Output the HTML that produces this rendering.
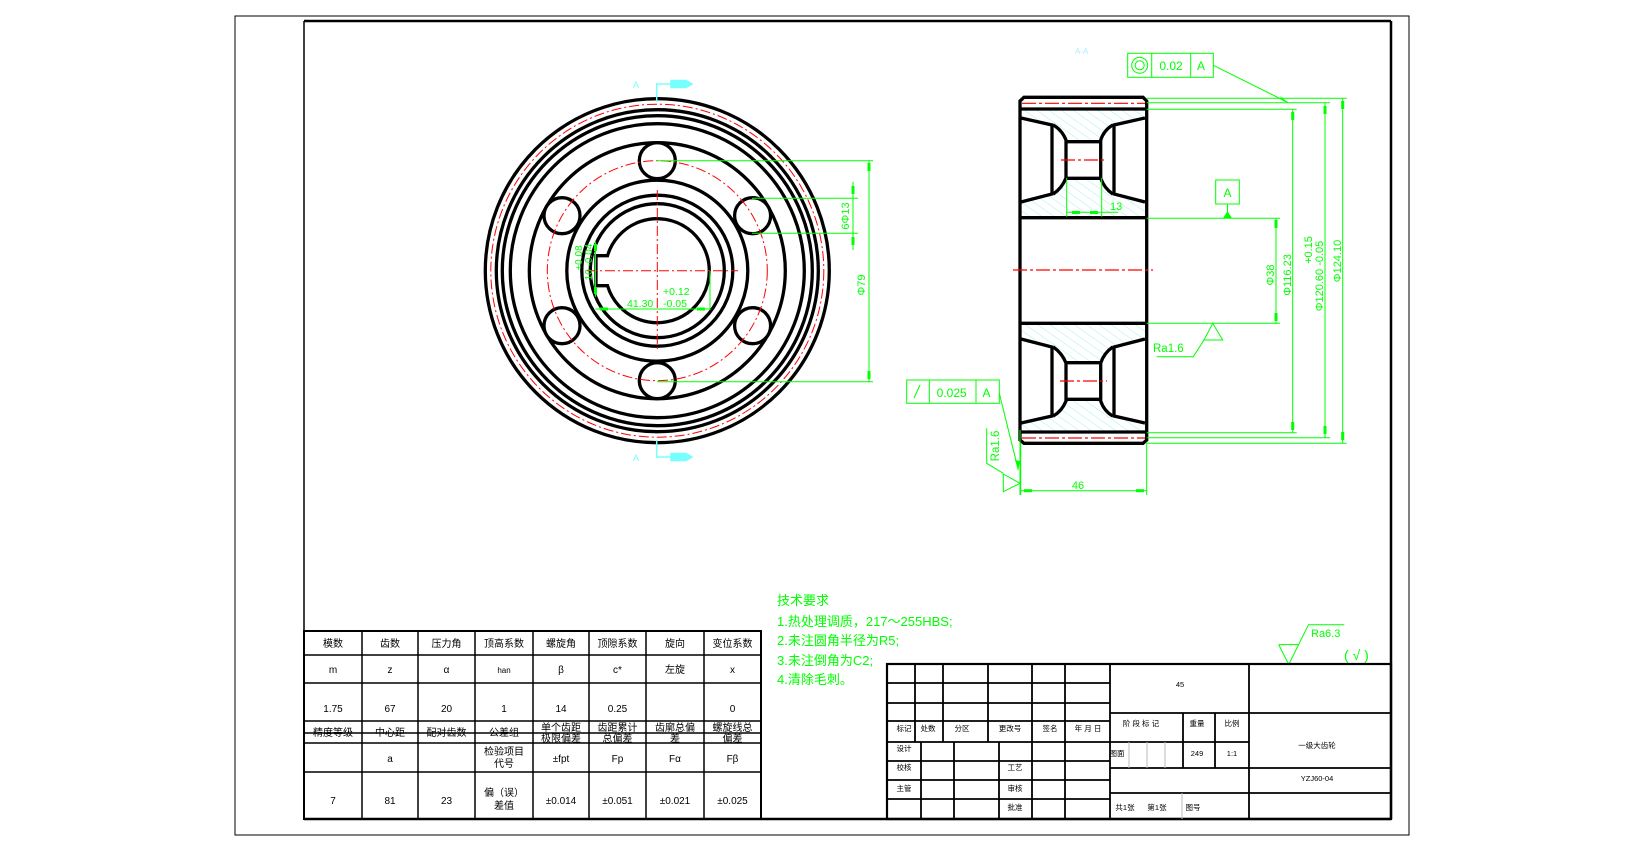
<!DOCTYPE html>
<html><head><meta charset="utf-8"><style>
html,body{margin:0;padding:0;background:#fff;}
svg{display:block;}
text{font-family:"Liberation Sans","Noto Sans CJK SC",sans-serif;}
</style></head><body>
<svg width="1637" height="842" viewBox="0 0 1637 842" xmlns="http://www.w3.org/2000/svg">
<defs>
<pattern id="h" width="7" height="7" patternUnits="userSpaceOnUse" patternTransform="rotate(-55)">
<line x1="0" y1="0" x2="0" y2="7" stroke="#8ee" stroke-width="0.8"/>
</pattern>
</defs>
<rect width="1637" height="842" fill="#fff"/>
<!-- frames -->
<rect x="235" y="16" width="1174" height="819" fill="none" stroke="#000" stroke-width="1"/>
<line x1="304" y1="21" x2="1391" y2="21" stroke="#000" stroke-width="2.5"/>
<line x1="304" y1="21" x2="304" y2="819" stroke="#000" stroke-width="1.5"/>
<line x1="1391" y1="21" x2="1391" y2="819" stroke="#000" stroke-width="2.5"/>
<line x1="304" y1="819" x2="1391" y2="819" stroke="#000" stroke-width="2.5"/>

<!-- ========== FRONT VIEW ========== -->
<g fill="none" stroke="#000" stroke-width="3.3">
<circle cx="657.3" cy="270.7" r="172"/>
<circle cx="657.3" cy="270.7" r="161"/>
<circle cx="657.3" cy="270.7" r="155"/>
<circle cx="657.3" cy="270.7" r="147"/>
<circle cx="657.3" cy="270.7" r="128"/>
<circle cx="657.3" cy="270.7" r="90.5"/>
<circle cx="657.3" cy="270.7" r="75.5"/>
<circle cx="657.3" cy="270.7" r="67"/>
<path d="M607.5 255.7 A52 52 0 1 1 607.5 285.7 L596 285.7 L596 255.7 Z"/>
</g>
<g fill="#fff" stroke="#000" stroke-width="3.3">
<circle cx="657.3" cy="160.7" r="18"/>
<circle cx="657.3" cy="380.7" r="18"/>
<circle cx="752.6" cy="215.7" r="18"/>
<circle cx="752.6" cy="325.7" r="18"/>
<circle cx="562" cy="215.7" r="18"/>
<circle cx="562" cy="325.7" r="18"/>
</g>
<g fill="none" stroke="#f00" stroke-width="1" stroke-dasharray="10,3,2,3">
<circle cx="657.3" cy="270.7" r="166.5"/>
<circle cx="657.3" cy="270.7" r="110"/>
<line x1="587" y1="270.7" x2="738" y2="270.7"/>
<line x1="657.3" y1="190" x2="657.3" y2="350"/>
</g>
<!-- section markers -->
<g stroke="#7ff" stroke-width="1.5" fill="#7ff">
<line x1="656.7" y1="83" x2="656.7" y2="102"/>
<line x1="656.7" y1="84" x2="672" y2="84"/>
<polygon points="671,80.5 686,80.5 692,84 686,87.5 671,87.5"/>
<line x1="656.7" y1="440" x2="656.7" y2="458"/>
<line x1="656.7" y1="457" x2="672" y2="457"/>
<polygon points="671,453.5 686,453.5 692,457 686,460.5 671,460.5"/>
</g>
<text x="633" y="88" font-size="9" fill="#7ff">A</text>
<text x="633" y="461" font-size="9" fill="#7ff">A</text>
<!-- front dims -->
<g stroke="#0f0" stroke-width="1" fill="none">
<line x1="657" y1="160.7" x2="873" y2="160.7"/>
<line x1="657" y1="381.7" x2="873" y2="381.7"/>
<line x1="869" y1="160.7" x2="869" y2="381.7"/>
<line x1="752" y1="198.3" x2="858" y2="198.3"/>
<line x1="752" y1="233.3" x2="858" y2="233.3"/>
<line x1="853" y1="181.7" x2="853" y2="250"/>
<line x1="595.5" y1="241.7" x2="595.5" y2="296.7"/>
<line x1="595.5" y1="309" x2="710" y2="309"/>
<line x1="710" y1="270.7" x2="710" y2="310"/>
</g>
<g fill="#0f0">
<rect x="867.5" y="163" width="3" height="8"/><rect x="867.5" y="371" width="3" height="8"/>
<rect x="851.5" y="186" width="3" height="8"/><rect x="851.5" y="237" width="3" height="8"/>
<rect x="594" y="244" width="3" height="7"/><rect x="594" y="287" width="3" height="7"/>
<rect x="600" y="307.5" width="8" height="3"/><rect x="697" y="307.5" width="8" height="3"/>
</g>
<g fill="#0f0" font-size="11">
<text transform="translate(865,285) rotate(-90)" text-anchor="middle">Φ79</text>
<text transform="translate(849,216) rotate(-90)" text-anchor="middle">6Φ13</text>
<text transform="translate(582,258) rotate(-90)" text-anchor="middle" font-size="10">+0.08</text>
<text transform="translate(592,262) rotate(-90)" text-anchor="middle" font-size="10">10  -0.04</text>
<text x="663" y="295" font-size="10.5">+0.12</text>
<text x="627" y="307" font-size="10.5">41.30</text>
<text x="663" y="307" font-size="10.5">-0.05</text>
</g>

<!-- ========== SIDE VIEW ========== -->
<text x="1075" y="54" font-size="8" fill="#aef">A-A</text>
<rect x="1021" y="109" width="124" height="109" fill="url(#h)"/>
<rect x="1021" y="323" width="124" height="109" fill="url(#h)"/>
<g fill="#fff" stroke="none">
<path d="M1021 118 L1052 125 L1053.3 125 Q1061 130 1066 140 L1066 178 Q1061 188 1053.3 194 L1052 194 L1021 202 Z"/>
<path d="M1145 118 L1114 125 L1112.7 125 Q1105 130 1100.7 140 L1100.7 178 Q1105 188 1112.7 194 L1114 194 L1145 202 Z"/>
<rect x="1066" y="141.7" width="34.7" height="36.6"/>
<path d="M1021 423 L1052 416 L1053.3 416 Q1061 411 1066 401 L1066 363 Q1061 353 1053.3 347 L1052 347 L1021 339 Z"/>
<path d="M1145 423 L1114 416 L1112.7 416 Q1105 411 1100.7 401 L1100.7 363 Q1105 353 1112.7 347 L1114 347 L1145 339 Z"/>
<rect x="1066" y="362.7" width="34.7" height="36.6"/>
</g>
<g fill="none" stroke="#000" stroke-width="3.3">
<path d="M1024 97.3 L1143 97.3 L1146.7 101 L1146.7 440 L1143 443.3 L1024 443.3 L1020 440 L1020 101 Z"/>
<line x1="1020" y1="109" x2="1146.7" y2="109"/>
<line x1="1020" y1="432" x2="1146.7" y2="432"/>
<line x1="1020" y1="217.7" x2="1146.7" y2="217.7"/>
<line x1="1020" y1="323.3" x2="1146.7" y2="323.3"/>
<!-- upper web -->
<path d="M1021 118 L1052 125 L1052 194 L1021 202"/>
<path d="M1145 118 L1114 125 L1114 194 L1145 202"/>
<path d="M1053.3 125 Q1062 130 1066 140 L1066 178 Q1062 188 1053.3 194"/>
<path d="M1112.7 125 Q1104 130 1100.7 140 L1100.7 178 Q1104 188 1112.7 194"/>
<line x1="1066" y1="141.7" x2="1100.7" y2="141.7"/>
<line x1="1066" y1="178.3" x2="1100.7" y2="178.3"/>
<!-- lower web -->
<path d="M1021 423 L1052 416 L1052 347 L1021 339"/>
<path d="M1145 423 L1114 416 L1114 347 L1145 339"/>
<path d="M1053.3 416 Q1062 411 1066 401 L1066 363 Q1062 353 1053.3 347"/>
<path d="M1112.7 416 Q1104 411 1100.7 401 L1100.7 363 Q1104 353 1112.7 347"/>
<line x1="1066" y1="362.7" x2="1100.7" y2="362.7"/>
<line x1="1066" y1="399.3" x2="1100.7" y2="399.3"/>
</g>
<g stroke="#f00" stroke-width="1.2" stroke-dasharray="14,3,3,3" fill="none">
<line x1="1022" y1="103.3" x2="1145" y2="103.3"/>
<line x1="1022" y1="438" x2="1145" y2="438"/>
<line x1="1013" y1="270" x2="1153" y2="270"/>
<line x1="1061" y1="160" x2="1107" y2="160"/>
<line x1="1060" y1="381" x2="1107" y2="381"/>
</g>
<!-- side dims -->
<g stroke="#0f0" stroke-width="1" fill="none">
<rect x="1127.7" y="53.3" width="85.6" height="24"/>
<line x1="1151.7" y1="53.3" x2="1151.7" y2="77.3"/>
<line x1="1190.7" y1="53.3" x2="1190.7" y2="77.3"/>
<circle cx="1139.7" cy="65.3" r="8"/><circle cx="1139.7" cy="65.3" r="4.5"/>
<line x1="1213.3" y1="65.3" x2="1288.3" y2="102.7"/>
<line x1="1146.7" y1="98.3" x2="1346.7" y2="98.3"/>
<line x1="1146.7" y1="102.7" x2="1330" y2="102.7"/>
<line x1="1146.7" y1="109.3" x2="1296.7" y2="109.3"/>
<line x1="1146.7" y1="432.7" x2="1296.7" y2="432.7"/>
<line x1="1146.7" y1="437.7" x2="1330" y2="437.7"/>
<line x1="1146.7" y1="443.3" x2="1346.7" y2="443.3"/>
<line x1="1292.7" y1="109.3" x2="1292.7" y2="432.7"/>
<line x1="1325" y1="102.7" x2="1325" y2="437.7"/>
<line x1="1342.7" y1="98.3" x2="1342.7" y2="443.3"/>
<line x1="1146.7" y1="218.3" x2="1280" y2="218.3"/>
<line x1="1146.7" y1="323.3" x2="1280" y2="323.3"/>
<line x1="1276" y1="218.3" x2="1276" y2="323.3"/>
<rect x="1215.7" y="180" width="23.6" height="24"/>
<line x1="1227.5" y1="204" x2="1227.5" y2="212"/>
<polygon points="1212.7,323.3 1204,340 1222.7,340"/>
<polyline points="1204,340 1193.3,356.7 1156.7,356.7"/>
<line x1="1066.7" y1="178" x2="1066.7" y2="216.7"/>
<line x1="1101.7" y1="178" x2="1101.7" y2="216.7"/>
<line x1="1066.7" y1="212.3" x2="1118.3" y2="212.3"/>
<line x1="1020.7" y1="443" x2="1020.7" y2="495"/>
<line x1="1146.7" y1="443" x2="1146.7" y2="495"/>
<line x1="1020.7" y1="490.7" x2="1146.7" y2="490.7"/>
<!-- runout -->
<rect x="906.7" y="380" width="92.6" height="23.3"/>
<line x1="929.3" y1="380" x2="929.3" y2="403.3"/>
<line x1="976" y1="380" x2="976" y2="403.3"/>
<line x1="920" y1="385" x2="914" y2="398"/>
<line x1="999.3" y1="393.3" x2="1018.3" y2="470"/>
<polyline points="986.7,428.3 986.7,463.3 1003.3,473.3"/>
<polygon points="1003.3,474 1020,483.3 1003.3,491.7"/>
<line x1="1020" y1="430" x2="1020" y2="495"/>
</g>
<g fill="#0f0">
<polygon points="1227.5,211 1223,218.3 1232,218.3"/>
<polygon points="1288.3,102.7 1280,96 1283,101"/>
<polygon points="1018.3,470 1015,460 1020,461"/>
<rect x="1291.2" y="112" width="3" height="8"/><rect x="1291.2" y="422" width="3" height="8"/>
<rect x="1323.5" y="106" width="3" height="8"/><rect x="1323.5" y="426" width="3" height="8"/>
<rect x="1341.2" y="101" width="3" height="8"/><rect x="1341.2" y="432" width="3" height="8"/>
<rect x="1274.5" y="220" width="3" height="8"/><rect x="1274.5" y="313" width="3" height="8"/>
<rect x="1072" y="211" width="8" height="3"/><rect x="1090" y="211" width="8" height="3"/>
<rect x="1024" y="489.2" width="8" height="3"/><rect x="1136" y="489.2" width="8" height="3"/>
</g>
<g fill="#0f0" font-size="12">
<text x="1171" y="70" text-anchor="middle">0.02</text>
<text x="1201" y="70" text-anchor="middle">A</text>
<text x="1227.5" y="197" text-anchor="middle">A</text>
<text x="951.7" y="397" text-anchor="middle">0.025</text>
<text x="986.5" y="397" text-anchor="middle">A</text>
<text x="1153" y="352" font-size="11.5">Ra1.6</text>
<text x="1110" y="210" font-size="11">13</text>
<text x="1078" y="489" font-size="11" text-anchor="middle">46</text>
<text transform="translate(999,446) rotate(-90)" text-anchor="middle" font-size="11.5">Ra1.6</text>
<text transform="translate(1274,275) rotate(-90)" text-anchor="middle" font-size="11">Φ38</text>
<text transform="translate(1291,275) rotate(-90)" text-anchor="middle" font-size="11">Φ116.23</text>
<text transform="translate(1312,250) rotate(-90)" text-anchor="middle" font-size="11">+0.15</text>
<text transform="translate(1323,276) rotate(-90)" text-anchor="middle" font-size="11">Φ120.60 -0.05</text>
<text transform="translate(1341,261) rotate(-90)" text-anchor="middle" font-size="11">Φ124.10</text>
</g>

<!-- tech requirements -->
<g fill="#0f0" font-size="13" font-family="'Liberation Sans','Noto Sans CJK SC',sans-serif">
<text x="777" y="605">技术要求</text>
<text x="777" y="626">1.热处理调质，217～255HBS;</text>
<text x="777" y="645">2.未注圆角半径为R5;</text>
<text x="777" y="665">3.未注倒角为C2;</text>
<text x="777" y="684">4.清除毛刺。</text>
</g>
<g stroke="#0f0" stroke-width="1" fill="none">
<polyline points="1278.7,644.6 1298.5,644.6"/>
<polyline points="1278.7,644.6 1288.7,664.5 1308.5,624.7 1344.3,624.7"/>
</g>
<text x="1311" y="637" font-size="11" fill="#0f0">Ra6.3</text>
<text x="1344" y="660" font-size="14" fill="#0f0">( √ )</text>

<!-- ========== PARAMETER TABLE ========== -->
<g stroke="#000" stroke-width="1.5" fill="none">
<rect x="304" y="631" width="457" height="188" stroke-width="2"/>
<line x1="304" y1="655" x2="761" y2="655"/>
<line x1="304" y1="683" x2="761" y2="683"/>
<line x1="304" y1="721" x2="761" y2="721"/>
<line x1="304" y1="733" x2="761" y2="733"/>
<line x1="304" y1="743" x2="761" y2="743"/>
<line x1="304" y1="772" x2="761" y2="772"/>
<line x1="362" y1="631" x2="362" y2="819"/>
<line x1="418" y1="631" x2="418" y2="819"/>
<line x1="475" y1="631" x2="475" y2="819"/>
<line x1="533" y1="631" x2="533" y2="819"/>
<line x1="589" y1="631" x2="589" y2="819"/>
<line x1="646" y1="631" x2="646" y2="819"/>
<line x1="704" y1="631" x2="704" y2="819"/>
</g>
<g font-size="10" fill="#000" text-anchor="middle">
<text x="333" y="647">模数</text><text x="390" y="647">齿数</text><text x="446.5" y="647">压力角</text><text x="504" y="647">顶高系数</text><text x="561" y="647">螺旋角</text><text x="617.5" y="647">顶隙系数</text><text x="675" y="647">旋向</text><text x="732.5" y="647">变位系数</text>
<text x="333" y="673">m</text><text x="390" y="673">z</text><text x="446.5" y="673">α</text><text x="504" y="673" font-size="8">han</text><text x="561" y="673">β</text><text x="617.5" y="673">c*</text><text x="675" y="673">左旋</text><text x="732.5" y="673">x</text>
<text x="333" y="712">1.75</text><text x="390" y="712">67</text><text x="446.5" y="712">20</text><text x="504" y="712">1</text><text x="561" y="712">14</text><text x="617.5" y="712">0.25</text><text x="732.5" y="712">0</text>
<text x="333" y="736">精度等级</text><text x="390" y="736">中心距</text><text x="446.5" y="736">配对齿数</text><text x="504" y="736">公差组</text>
<text x="561" y="731">单个齿距</text><text x="617.5" y="731">齿距累计</text><text x="675" y="731">齿廓总偏</text><text x="732.5" y="731">螺旋线总</text>
<text x="561" y="742">极限偏差</text><text x="617.5" y="742">总偏差</text><text x="675" y="742">差</text><text x="732.5" y="742">偏差</text>
<text x="390" y="762">a</text>
<text x="504" y="755">检验项目</text><text x="504" y="767">代号</text>
<text x="561" y="762">±fpt</text><text x="617.5" y="762">Fp</text><text x="675" y="762">Fα</text><text x="732.5" y="762">Fβ</text>
<text x="333" y="804">7</text><text x="390" y="804">81</text><text x="446.5" y="804">23</text>
<text x="504" y="796">偏（误）</text><text x="504" y="809">差值</text>
<text x="561" y="804">±0.014</text><text x="617.5" y="804">±0.051</text><text x="675" y="804">±0.021</text><text x="732.5" y="804">±0.025</text>
</g>

<!-- ========== TITLE BLOCK ========== -->
<g stroke="#000" stroke-width="1.8" fill="none">
<rect x="887" y="664" width="504" height="155" stroke-width="2.2"/>
<line x1="887" y1="683" x2="1110" y2="683"/>
<line x1="887" y1="703" x2="1110" y2="703"/>
<line x1="887" y1="721" x2="1110" y2="721"/>
<line x1="887" y1="742" x2="1110" y2="742"/>
<line x1="887" y1="761" x2="1110" y2="761"/>
<line x1="887" y1="780" x2="1110" y2="780"/>
<line x1="887" y1="799" x2="1110" y2="799"/>
<line x1="915" y1="664" x2="915" y2="742"/>
<line x1="943" y1="664" x2="943" y2="742"/>
<line x1="988" y1="664" x2="988" y2="742"/>
<line x1="1032" y1="664" x2="1032" y2="819"/>
<line x1="1065" y1="664" x2="1065" y2="819"/>
<line x1="921" y1="742" x2="921" y2="819"/>
<line x1="954" y1="742" x2="954" y2="819"/>
<line x1="999" y1="742" x2="999" y2="819"/>
<line x1="1110" y1="664" x2="1110" y2="819"/>
<line x1="1249" y1="664" x2="1249" y2="819"/>
<line x1="1110" y1="713" x2="1391" y2="713"/>
<line x1="1110" y1="768" x2="1391" y2="768"/>
<line x1="1110" y1="793" x2="1391" y2="793"/>
<line x1="1183" y1="713" x2="1183" y2="768"/>
<line x1="1215" y1="713" x2="1215" y2="768"/>
<line x1="1110" y1="742" x2="1249" y2="742"/>
</g>
<g stroke="#bbb" stroke-width="1">
<line x1="1129" y1="742" x2="1129" y2="768"/>
<line x1="1147" y1="742" x2="1147" y2="768"/>
<line x1="1165" y1="742" x2="1165" y2="768"/>
<line x1="1182" y1="793" x2="1182" y2="819"/>
</g>
<g font-size="7.5" fill="#000" text-anchor="middle">
<text x="1180" y="687">45</text>
<text x="1141" y="726">阶 段 标 记</text><text x="1197" y="726">重量</text><text x="1232" y="726">比例</text>
<text x="1317" y="748">一级大齿轮</text>
<text x="1117" y="756">图面</text><text x="1197" y="756">249</text><text x="1232" y="756">1:1</text>
<text x="1317" y="781">YZJ60-04</text>
<text x="1125" y="810">共1张</text><text x="1157" y="810">第1张</text><text x="1193" y="810">图号</text>
<text x="904" y="731">标记</text><text x="928" y="731">处数</text><text x="962" y="731">分区</text><text x="1010" y="731">更改号</text><text x="1050" y="731">签名</text><text x="1088" y="731">年 月 日</text>
<text x="904" y="751">设计</text><text x="904" y="770">校核</text><text x="904" y="791">主管</text>
<text x="1015" y="770">工艺</text><text x="1015" y="791">审核</text><text x="1015" y="810">批准</text>
</g>
</svg>
</body></html>
